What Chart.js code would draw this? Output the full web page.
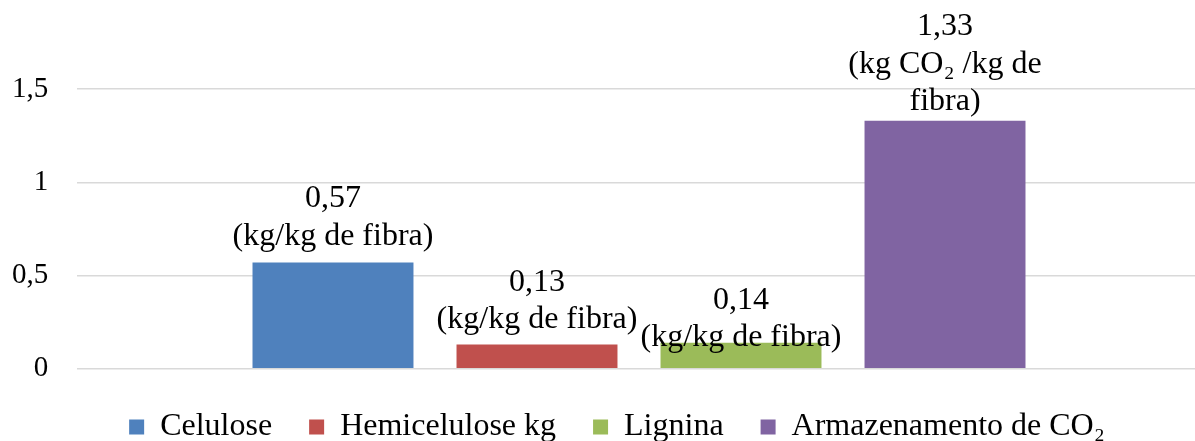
<!DOCTYPE html>
<html>
<head>
<meta charset="utf-8">
<script src="https://cdn.jsdelivr.net/npm/chart.js@4"></script>
<style>
  html, body { margin: 0; padding: 0; background: #fff; }
  #clip { width: 1195px; height: 441px; overflow: hidden; position: relative; }
  #wrap { width: 1234px; height: 453px; position: relative; }
</style>
</head>
<body>
<div id="clip"><div id="wrap"><canvas id="chart"></canvas></div></div>
<script>
const categories = [''];
const seriesNames = ['Celulose', 'Hemicelulose kg', 'Lignina', 'Armazenamento de CO₂'];
const seriesValues = [0.57, 0.13, 0.14, 1.33];
const seriesLabels = [
  ['0,57', '(kg/kg de fibra)'],
  ['0,13', '(kg/kg de fibra)'],
  ['0,14', '(kg/kg de fibra)'],
  ['1,33', '(kg CO₂ /kg de', 'fibra)'],
];
const colors = ['#4F81BD', '#C0504D', '#9BBB59', '#8064A2'];
const yTicks = [0, 0.5, 1, 1.5];

const FONT = '"Liberation Serif", "Times New Roman", serif';

// draws the multi-line value labels above each bar
const barLabels = {
  id: 'barLabels',
  afterDatasetsDraw(chart, args, opts) {
    const ctx = chart.ctx;
    ctx.save();
    ctx.font = `${opts.size}px ${FONT}`;
    ctx.fillStyle = '#000';
    ctx.textAlign = 'center';
    ctx.textBaseline = 'middle';
    chart.data.datasets.forEach((ds, i) => {
      const bar = chart.getDatasetMeta(i).data[0];
      const lines = seriesLabels[i];
      const base = bar.y - opts.offsets[i];
      lines.forEach((t, j) => {
        ctx.fillText(t, bar.x, base - (lines.length - 1 - j) * opts.lineHeight);
      });
    });
    ctx.restore();
  }
};

new Chart(document.getElementById('chart'), {
  type: 'bar',
  data: {
    labels: categories,
    datasets: seriesNames.map((name, i) => ({
      label: name,
      data: [seriesValues[i]],
      backgroundColor: colors[i],
      barPercentage: 0.789,
      categoryPercentage: 0.726,
    })),
  },
  options: {
    responsive: true,
    maintainAspectRatio: false,
    animation: false,
    layout: { padding: { top: 89, right: 33, left: 33, bottom: 0 } },
    scales: {
      x: { display: false },
      y: {
        min: 0,
        max: 1.5,
        afterBuildTicks(scale) { scale.ticks = yTicks.map(v => ({ value: v })); },
        afterFit(scale) { scale.width = 44; },
        border: { display: false },
        grid: { color: '#d9d9d9', lineWidth: 1.5, drawTicks: false },
        ticks: {
          mirror: true,        // avoids clipping to the narrow axis box
          crossAlign: 'far',
          padding: -65,
          color: '#000',
          font: { family: FONT, size: 29 },
          callback: v => String(v).replace('.', ','),
        },
      },
    },
    plugins: {
      tooltip: { enabled: false },
      legend: {
        position: 'bottom',
        title: { display: true, text: '', font: { size: 1 }, padding: { top: 2, bottom: 2 } },
        labels: {
          color: '#000',
          font: { family: FONT, size: 32 },
          boxWidth: 15,
          boxHeight: 15,
          padding: 37,
        },
      },
      barLabels: { size: 32, lineHeight: 37.4, offsets: [26, 25, 5, 19] },
    },
  },
  plugins: [barLabels],
});
</script>
</body>
</html>
